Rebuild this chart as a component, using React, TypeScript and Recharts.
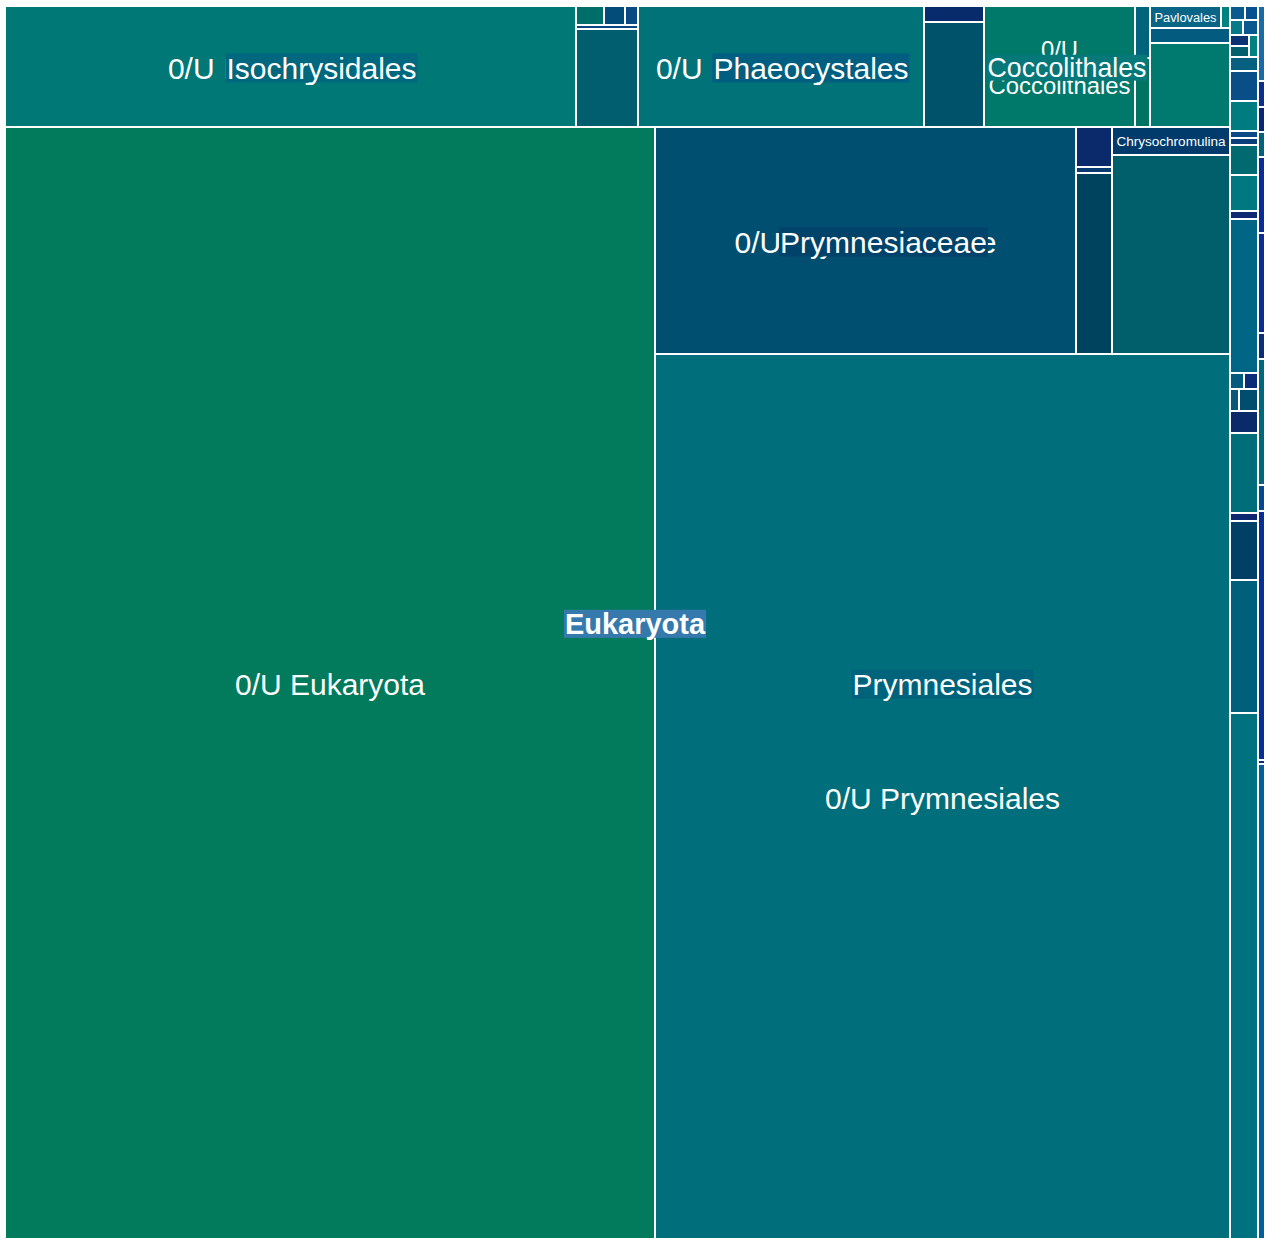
import React from 'react';
import { Treemap } from 'recharts';

// Box areas (reads); the treemap scales them to the canvas.
type Entry = [string, number] | [string, Entry[]];

const ISOCHRYSIDALES: Entry[] = [
  ['0/U Isochrysidales', 68970],
  ['Gephyrocapsa', 540],
  ['Isochrysis', 390],
  ['Tisochrysis', 217],
  ['Ruttnera', 217],
  ['Noelaerhabdaceae', 6138],
];

const PHAEOCYSTALES: Entry[] = [
  ['0/U Phaeocystales', 34485],
  ['Phaeocystis globosa', 960],
  ['Phaeocystis', 6300],
];

const COCCOLITHALES: Entry[] = [
  ['0/U Coccolithales', 18271],
  ['Coccolithus', 780],
  ['Calcidiscus', 1035],
];

const PAVLOVOPHYCEAE: Entry[] = [
  ['Pavlovales', 1584],
  ['Diacronema', 198],
  ['Pavlova', 1215],
  ['0/U Pavlovophyceae', 6804],
];

const UNASSIGNED_EUKARYOTA = 722150;

const PRYMNESIACEAE: Entry[] = [
  ['0/U Prymnesiaceae', 95340],
  ['Prymnesium', 1440],
  ['Haptolina', 216],
  ['Prymnesiaceae X', 6516],
];

const CHRYSOCHROMULINACEAE: Entry[] = [
  ['Chrysochromulina', 3304],
  ['Chrysochromulina sp.', 23482],
];

const UNASSIGNED_PRYMNESIALES = 507416;

// narrow haptophyte strip, top to bottom
const HAPTO_STRIP: Entry[] = [
  ['HAP-1', [['HAP-1a', 210], ['HAP-1b', 182]]],
  ['HAP-2', [['HAP-2a', 195], ['HAP-2b', 225]]],
  ['HAP-3', [['HAP-3x', [['HAP-3a', 209], ['HAP-3b', 209]]], ['HAP-3c', 198]]],
  ['HAP-4', 392],
  ['HAP-5', 840],
  ['HAP-6', [['HAP-6a', 840], ['HAP-6b', 196]]],
  ['HAP-7', 196],
  ['HAP-8', 840],
  ['HAP-9', 1008],
  ['HAP-10', 224],
  ['HAP-11', 4312],
  ['HAP-12', [['HAP-12a', 224], ['HAP-12b', 224]]],
  ['HAP-13', 196],
  ['HAP-14', 420],
  ['HAP-15', 616],
  ['HAP-16', 2240],
  ['HAP-17', 224],
  ['HAP-18', 1652],
  ['HAP-19', 3724],
  ['HAP-20', 14700],
];

// outermost thin column
const OTHER_EUKARYOTES: Entry[] = [
  ['Mamiellophyceae', 525],
  ['Dinophyceae', 182],
  ['Syndiniales', 175],
  ['Pelagophyceae', 175],
  ['Bacillariophyta', 532],
  ['Chlorophyta', 700],
  ['Cryptophyceae', 182],
  ['Dictyochophyceae', 882],
  ['Ciliophora', 182],
  ['MAST', 1743],
  ['Picozoa', 28],
  ['Cercozoa', 3318],
];

const COLORS: Record<string, string> = {
  '0/U Isochrysidales': '#007876',
  Gephyrocapsa: '#006e68',
  Isochrysis: '#034b78',
  Tisochrysis: '#0a4a82',
  Ruttnera: '#0b4580',
  Noelaerhabdaceae: '#005e6e',
  '0/U Phaeocystales': '#007278',
  'Phaeocystis globosa': '#072b6b',
  Phaeocystis: '#00526a',
  '0/U Coccolithales': '#00786a',
  Coccolithus: '#00647a',
  Calcidiscus: '#007362',
  Pavlovales: '#0a6485',
  Diacronema: '#00837f',
  Pavlova: '#035b80',
  '0/U Pavlovophyceae': '#007a6e',
  '0/U Eukaryota': '#027a5c',
  '0/U Prymnesiaceae': '#004f70',
  Prymnesium: '#0a2a6c',
  Haptolina: '#093b72',
  'Prymnesiaceae X': '#00435f',
  Chrysochromulina: '#003b6b',
  'Chrysochromulina sp.': '#005f6b',
  '0/U Prymnesiales': '#006f7b',
  'HAP-1a': '#0a5a90',
  'HAP-1b': '#06508f',
  'HAP-2a': '#057a88',
  'HAP-2b': '#09598f',
  'HAP-3a': '#0b3273',
  'HAP-3b': '#02606e',
  'HAP-3c': '#008281',
  'HAP-4': '#07607f',
  'HAP-5': '#0a4e88',
  'HAP-6a': '#007b80',
  'HAP-6b': '#0b4a84',
  'HAP-7': '#0b3f7c',
  'HAP-8': '#006a70',
  'HAP-9': '#00787f',
  'HAP-10': '#0d2a73',
  'HAP-11': '#016586',
  'HAP-12a': '#035a7e',
  'HAP-12b': '#0c2c77',
  'HAP-13': '#05587a',
  'HAP-14': '#004e6f',
  'HAP-15': '#0b2a6a',
  'HAP-16': '#006e79',
  'HAP-17': '#0c2670',
  'HAP-18': '#013f66',
  'HAP-19': '#005f7a',
  'HAP-20': '#00717f',
  Mamiellophyceae: '#1a6aa6',
  Dinophyceae: '#0b2f8c',
  Syndiniales: '#0a2574',
  Pelagophyceae: '#00627c',
  Bacillariophyta: '#0a2b98',
  Chlorophyta: '#0a2c94',
  Cryptophyceae: '#0a2e78',
  Dictyochophyceae: '#00687a',
  Ciliophora: '#03498f',
  MAST: '#082f95',
  Picozoa: '#0c2a80',
  Cercozoa: '#035f99',
};

// leaves whose name is printed
const LEAF_LABELS = [
  '0/U Eukaryota',
  '0/U Isochrysidales',
  '0/U Phaeocystales',
  '0/U Coccolithales',
  '0/U Prymnesiaceae',
  '0/U Prymnesiales',
  'Chrysochromulina',
  'Pavlovales',
];

// parent labels, drawn on top with a backing box
const GROUP_LABEL_BG: Record<string, string> = {
  Eukaryota: '#3579ad',
  Isochrysidales: '#00687e',
  Phaeocystales: '#005f80',
  Coccolithales: '#067879',
  Prymnesiaceae: '#00436a',
  Prymnesiales: '#00637c',
};

type Node = { name: string; value?: number; children?: Node[] };

function toNode([name, v]: Entry): Node {
  return typeof v === 'number' ? { name, value: v } : { name, children: v.map(toNode) };
}

const DATA: Node[] = [
  {
    name: 'Eukaryota',
    children: [
      {
        name: 'Haptophyta',
        children: [
          {
            name: 'Prymnesiophyceae',
            children: [
              { name: 'Isochrysidales', children: ISOCHRYSIDALES.map(toNode) },
              { name: 'Phaeocystales', children: PHAEOCYSTALES.map(toNode) },
              { name: 'Coccolithales', children: COCCOLITHALES.map(toNode) },
              { name: 'Pavlovophyceae', children: PAVLOVOPHYCEAE.map(toNode) },
              { name: '0/U Eukaryota', value: UNASSIGNED_EUKARYOTA },
              {
                name: 'Prymnesiales',
                children: [
                  { name: 'Prymnesiaceae', children: PRYMNESIACEAE.map(toNode) },
                  { name: 'Chrysochromulinaceae', children: CHRYSOCHROMULINACEAE.map(toNode) },
                  { name: '0/U Prymnesiales', value: UNASSIGNED_PRYMNESIALES },
                ],
              },
            ],
          },
          ...HAPTO_STRIP.map(toNode),
        ],
      },
      ...OTHER_EUKARYOTES.map(toNode),
    ],
  },
];

const W = 1260;
const H = 1233;
const FONT = '"Liberation Sans", Arial, Helvetica, sans-serif';
const MAX_FS = 30;

let ctx: CanvasRenderingContext2D | null = null;
function measure(text: string, size: number, bold = false): number {
  if (!ctx) ctx = document.createElement('canvas').getContext('2d');
  if (!ctx) return text.length * size * 0.56;
  ctx.font = `${bold ? 'bold ' : ''}${size}px ${FONT}`;
  return ctx.measureText(text).width;
}

function fitLabel(text: string, w: number, h: number) {
  const em = (s: string) => measure(s, 100) / 100;
  const one = Math.min(MAX_FS, (w - 9) / em(text), h - 4);
  const words = text.split(' ');
  if (words.length > 1 && one < MAX_FS) {
    const widest = Math.max(...words.map(em));
    const two = Math.min(MAX_FS, (w - 9) / widest, (h - 4) / (words.length * 1.5));
    if (two > one) return { lines: words, fs: two };
  }
  return { lines: [text], fs: one };
}

function LeafCell(props: any) {
  const { x, y, width, height, name, children, depth } = props;
  if (depth === 0 || (children && children.length)) return null;
  let label = null;
  if (LEAF_LABELS.includes(name)) {
    const { lines, fs } = fitLabel(name, width, height);
    const cx = x + width / 2;
    const cy = y + height / 2;
    const lh = fs * 1.5;
    label = lines.map((ln, i) => (
      <text
        key={ln}
        x={cx}
        y={cy + (i - (lines.length - 1) / 2) * lh + fs * 0.4}
        textAnchor="middle"
        fill="#fff"
        fontSize={fs}
        fontFamily={FONT}
      >
        {ln}
      </text>
    ));
  }
  return (
    <g>
      <rect
        x={x}
        y={y}
        width={width}
        height={height}
        fill={COLORS[name] ?? '#006e7a'}
        stroke="#fff"
        strokeWidth={2}
      />
      {label}
    </g>
  );
}

function GroupLabel(props: any) {
  const { x, y, width, height, name, children } = props;
  const bg = GROUP_LABEL_BG[name];
  if (!bg || !children || !children.length) return null;
  const bold = name === 'Eukaryota';
  const fs = bold ? 29 : Math.min(MAX_FS, (width - 7) / (measure(name, 100) / 100));
  const tw = measure(name, fs, bold);
  const cx = x + width / 2;
  const base = y + height / 2 + fs * 0.4;
  return (
    <g>
      <rect x={cx - tw / 2 - 1} y={base - fs * 0.84} width={tw + 2} height={fs * 0.97} fill={bg} />
      <text
        x={cx}
        y={base}
        textAnchor="middle"
        fill="#fff"
        fontSize={fs}
        fontWeight={bold ? 'bold' : 'normal'}
        fontFamily={FONT}
      >
        {name}
      </text>
    </g>
  );
}

export default function App() {
  return (
    <div style={{ position: 'absolute', left: 5, top: 6, width: W, height: H }}>
      <div style={{ position: 'absolute', left: 0, top: 0 }}>
        <Treemap
          width={W}
          height={H}
          data={DATA}
          dataKey="value"
          nameKey="name"
          aspectRatio={1}
          isAnimationActive={false}
          content={<LeafCell />}
        />
      </div>
      <div style={{ position: 'absolute', left: 0, top: 0, pointerEvents: 'none' }}>
        <Treemap
          width={W}
          height={H}
          data={DATA}
          dataKey="value"
          nameKey="name"
          aspectRatio={1}
          isAnimationActive={false}
          content={<GroupLabel />}
        />
      </div>
    </div>
  );
}
